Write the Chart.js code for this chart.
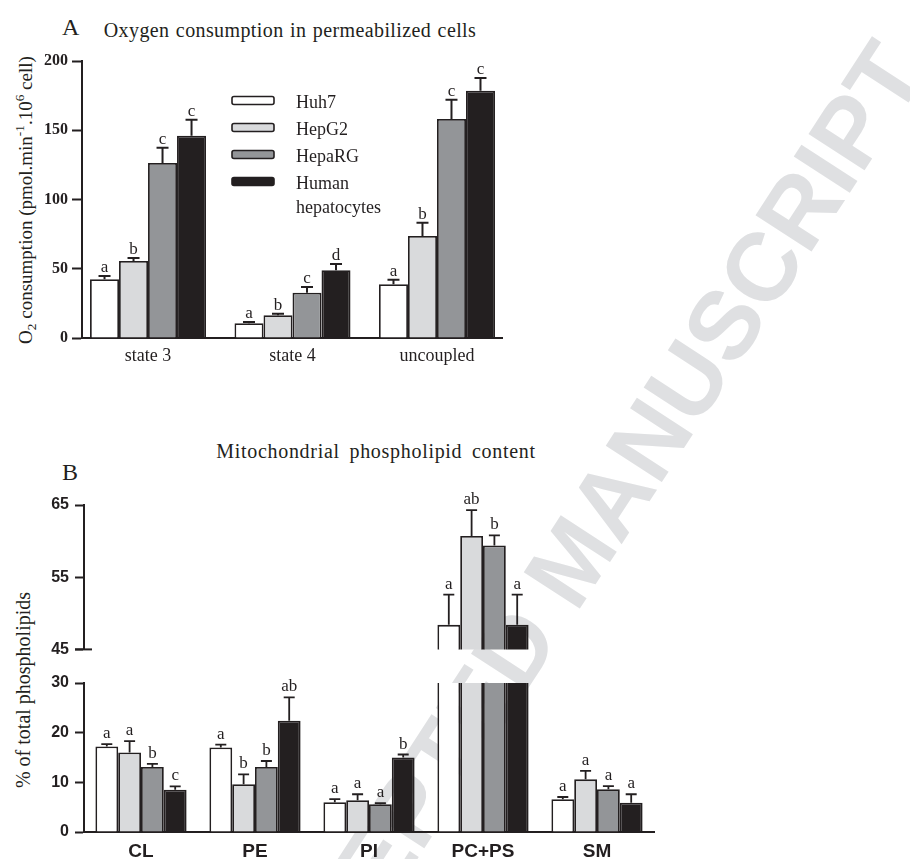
<!DOCTYPE html>
<html>
<head>
<meta charset="utf-8">
<script src="https://cdn.jsdelivr.net/npm/chart.js@4.4.1/dist/chart.umd.min.js"></script>
<style>
  body { margin: 0; width: 910px; height: 859px; overflow: hidden; position: relative; background: #fff; color: #231f20; font-family: "Liberation Serif", serif; }
  .box { position: absolute; }
  .txt { position: absolute; white-space: nowrap; line-height: 1; }
  .rot { position: absolute; white-space: nowrap; line-height: 1; transform: translate(-50%, -50%) rotate(-90deg); font-size: 19px; }
  .rot sub, .rot sup { font-size: 70%; line-height: 0; }
  .wm { position: absolute; white-space: nowrap; line-height: 1; transform: translate(-50%, -50%) rotate(-57deg);
        font: bold 97px "Liberation Sans", sans-serif; color: #dfe0e2; }
</style>
</head>
<body>

<div class="wm" style="left:572px; top:560px">ACCEPTED MANUSCRIPT</div>

<div class="txt" style="left:62px; top:15px; font-size:24px">A</div>
<div class="txt" style="left:290px; top:20px; font-size:20px; letter-spacing:0.4px; word-spacing:1px; transform:translateX(-50%)">Oxygen consumption in permeabilized cells</div>
<div class="rot" style="left:25px; top:200px">O<sub>2</sub> consumption (pmol.min<sup>-1</sup>.10<sup>6</sup> cell)</div>

<div class="txt" style="left:62px; top:460px; font-size:24px">B</div>
<div class="txt" style="left:376px; top:441px; font-size:20px; letter-spacing:0.7px; word-spacing:4px; transform:translateX(-50%)">Mitochondrial phospholipid content</div>
<div class="rot" style="left:23px; top:690px; font-size:20px">% of total phospholipids</div>

<div class="box" style="left:0; top:0; width:560px; height:372px"><canvas id="chart-a"></canvas></div>
<div class="box" style="left:0; top:480px; width:700px; height:185px"><canvas id="chart-b-top"></canvas></div>
<div class="box" style="left:0; top:660px; width:700px; height:199px"><canvas id="chart-b-low"></canvas></div>

<script>
// cell lines (same order in both panels)
const cellLines = ["Huh7", "HepG2", "HepaRG", "Human hepatocytes"];
const legendLines = [["Huh7"], ["HepG2"], ["HepaRG"], ["Human", "hepatocytes"]];

// panel A - O2 consumption
const stateLabels = ["state 3", "state 4", "uncoupled"];
const huh7O2 = [42.4, 10.6, 38.8];
const hepg2O2 = [55.6, 16.4, 73.6];
const hepargO2 = [126.4, 32.7, 158.1];
const humanO2 = [146.1, 48.9, 178.6];
const huh7O2Err = [2.4, 0.9, 3.3];
const hepg2O2Err = [2.2, 1.1, 9.6];
const hepargO2Err = [11.0, 4.1, 13.9];
const humanO2Err = [11.5, 4.5, 9.1];
const huh7O2Sig = ["a", "a", "a"];
const hepg2O2Sig = ["b", "b", "b"];
const hepargO2Sig = ["c", "c", "c"];
const humanO2Sig = ["c", "d", "c"];
const o2Ticks = [0, 50, 100, 150, 200];

// panel B - phospholipids
const lipidLabels = ["CL", "PE", "PI", "PC+PS", "SM"];
const huh7PL = [17.2, 17.0, 6.0, 48.4, 6.6];
const hepg2PL = [16.0, 9.6, 6.4, 60.7, 10.6];
const hepargPL = [13.1, 13.1, 5.6, 59.4, 8.6];
const humanPL = [8.5, 22.4, 15.0, 48.4, 5.9];
const huh7PLErr = [0.5, 0.6, 0.6, 4.2, 0.45];
const hepg2PLErr = [2.3, 2.0, 1.2, 3.6, 1.7];
const hepargPLErr = [0.6, 1.2, 0.2, 1.4, 0.65];
const humanPLErr = [0.7, 4.7, 0.6, 4.2, 1.7];
const huh7PLSig = ["a", "a", "a", "a", "a"];
const hepg2PLSig = ["a", "b", "a", "ab", "a"];
const hepargPLSig = ["b", "b", "a", "b", "a"];
const humanPLSig = ["c", "ab", "b", "a", "a"];
const lowTicks = [0, 10, 20, 30];
const highTicks = [45, 55, 65];

const ink = "#231f20";
const fills = ["#ffffff", "#d9dadc", "#939598", "#231f20"];
const serif = "Liberation Serif";
const sans = "Liberation Sans";

Chart.defaults.font.family = serif;
Chart.defaults.color = ink;
Chart.defaults.animation = false;

// one-sided error bars + significance letters, only where the bar top sits inside this y range
const errorBars = {
    id: "errorBars",
    afterDatasetsDraw: function (chart, args, opts) {
        const ctx = chart.ctx;
        const y = chart.scales.y;
        ctx.save();
        chart.data.datasets.forEach((ds, i) => {
            chart.getDatasetMeta(i).data.forEach((bar, j) => {
                const v = ds.data[j];
                if (v < y.min || v > y.max) return;
                const base = y.getPixelForValue(v);
                const top = y.getPixelForValue(v + ds.errors[j]);
                ctx.strokeStyle = ink;
                ctx.lineWidth = opts.width;
                ctx.beginPath();
                ctx.moveTo(bar.x, base);
                ctx.lineTo(bar.x, top);
                ctx.moveTo(bar.x - opts.cap / 2, top);
                ctx.lineTo(bar.x + opts.cap / 2, top);
                ctx.stroke();
                ctx.fillStyle = ink;
                ctx.font = "17px '" + serif + "'";
                ctx.textAlign = "center";
                ctx.textBaseline = "alphabetic";
                ctx.fillText(ds.letters[j], bar.x, top - opts.gap);
            });
        });
        ctx.restore();
    }
};

// legend inside panel A
const boxLegend = {
    id: "boxLegend",
    afterDraw: function (chart, args, opts) {
        const ctx = chart.ctx;
        ctx.save();
        chart.data.datasets.forEach((ds, i) => {
            const yc = opts.y + i * opts.step;
            ctx.beginPath();
            ctx.roundRect(opts.x, yc - opts.h / 2, opts.w, opts.h, 2);
            ctx.fillStyle = ds.backgroundColor;
            ctx.fill();
            ctx.lineWidth = 1.6;
            ctx.strokeStyle = ink;
            ctx.stroke();
            ctx.fillStyle = ink;
            ctx.font = "18px '" + serif + "'";
            ctx.textAlign = "left";
            ctx.textBaseline = "middle";
            legendLines[i].forEach((t, k) => {
                ctx.fillText(t, opts.x + opts.w + 22, yc + 3 + k * 24);
            });
        });
        ctx.restore();
    }
};

// break mark on the upper part of the split axis
const axisBreak = {
    id: "axisBreak",
    afterDraw: function (chart) {
        const ctx = chart.ctx;
        const y = chart.scales.y;
        const py = y.getPixelForValue(y.min);
        ctx.save();
        ctx.strokeStyle = ink;
        ctx.lineWidth = 2;
        ctx.beginPath();
        ctx.moveTo(chart.chartArea.left - 9, py);
        ctx.lineTo(chart.chartArea.left + 8, py);
        ctx.stroke();
        ctx.restore();
    }
};

function makeSets(values, errors, letters) {
    return values.map((v, i) => ({
        label: cellLines[i],
        data: v,
        errors: errors[i],
        letters: letters[i],
        backgroundColor: fills[i],
        borderColor: ink,
        borderWidth: 1.8,
        clip: 0
    }));
}

function yAxis(min, max, ticks, font, width, tickLength, padding) {
    return {
        min: min,
        max: max,
        afterBuildTicks: (s) => { s.ticks = ticks.map((t) => ({ value: t })); },
        ticks: { font: font, color: ink, padding: padding },
        grid: { drawOnChartArea: false, drawTicks: true, tickLength: tickLength, tickWidth: 2, tickColor: ink },
        border: { color: ink, width: 2 },
        afterFit: (s) => { s.width = width; }
    };
}

// panel A
new Chart(document.getElementById("chart-a"), {
    type: "bar",
    data: {
        labels: stateLabels.map((t, i) => i),
        datasets: makeSets(
            [huh7O2, hepg2O2, hepargO2, humanO2],
            [huh7O2Err, hepg2O2Err, hepargO2Err, humanO2Err],
            [huh7O2Sig, hepg2O2Sig, hepargO2Sig, humanO2Sig]
        )
    },
    options: {
        responsive: true,
        maintainAspectRatio: false,
        categoryPercentage: 0.803,
        barPercentage: 1,
        layout: { padding: { top: 61, right: 58, bottom: 0, left: 0 } },
        plugins: {
            legend: { display: false },
            tooltip: { enabled: false },
            errorBars: { width: 2, cap: 12, gap: 4 },
            boxLegend: { x: 232, y: 100.5, step: 27, w: 42, h: 8 }
        },
        scales: {
            x: {
                type: "linear",
                min: -0.457,
                max: 2.45,
                offset: false,
                afterBuildTicks: (s) => { s.ticks = stateLabels.map((t, i) => ({ value: i })); },
                ticks: { callback: (v) => stateLabels[v], font: { size: 18 }, color: ink, padding: 7, autoSkip: false, maxRotation: 0 },
                grid: { display: false, drawTicks: false },
                border: { color: ink, width: 2 },
                afterFit: (s) => { s.height = 34; }
            },
            y: yAxis(0, 200, o2Ticks, { family: serif, weight: "bold", size: 16 }, 82, 10, 4)
        }
    },
    plugins: [errorBars, boxLegend]
});

// panel B, two views of the same data around the axis break
function lipidChart(id, yMin, yMax, ticks, showX, pad, extra) {
    return new Chart(document.getElementById(id), {
        type: "bar",
        data: {
            labels: lipidLabels,
            datasets: makeSets(
                [huh7PL, hepg2PL, hepargPL, humanPL],
                [huh7PLErr, hepg2PLErr, hepargPLErr, humanPLErr],
                [huh7PLSig, hepg2PLSig, hepargPLSig, humanPLSig]
            )
        },
        options: {
            responsive: true,
            maintainAspectRatio: false,
            categoryPercentage: 0.8,
            barPercentage: 1,
            layout: { padding: pad },
            plugins: {
                legend: { display: false },
                tooltip: { enabled: false },
                errorBars: { width: 1.8, cap: 11, gap: 6 }
            },
            scales: {
                x: {
                    display: showX,
                    ticks: { font: { family: sans, weight: "bold", size: 19 }, color: ink, padding: 8 },
                    grid: { display: false, drawTicks: false },
                    border: { color: ink, width: 2 },
                    afterFit: (s) => { s.height = showX ? 27 : 0; }
                },
                y: yAxis(yMin, yMax, ticks, { family: sans, weight: "bold", size: 16 }, 84, 9, 6)
            }
        },
        plugins: extra
    });
}

lipidChart("chart-b-top", 45, 65, highTicks, false, { top: 25, right: 46, bottom: 12, left: 0 }, [errorBars, axisBreak]);
lipidChart("chart-b-low", 0, 30, lowTicks, true, { top: 23, right: 46, bottom: 0, left: 0 }, [errorBars]);
</script>
</body>
</html>
